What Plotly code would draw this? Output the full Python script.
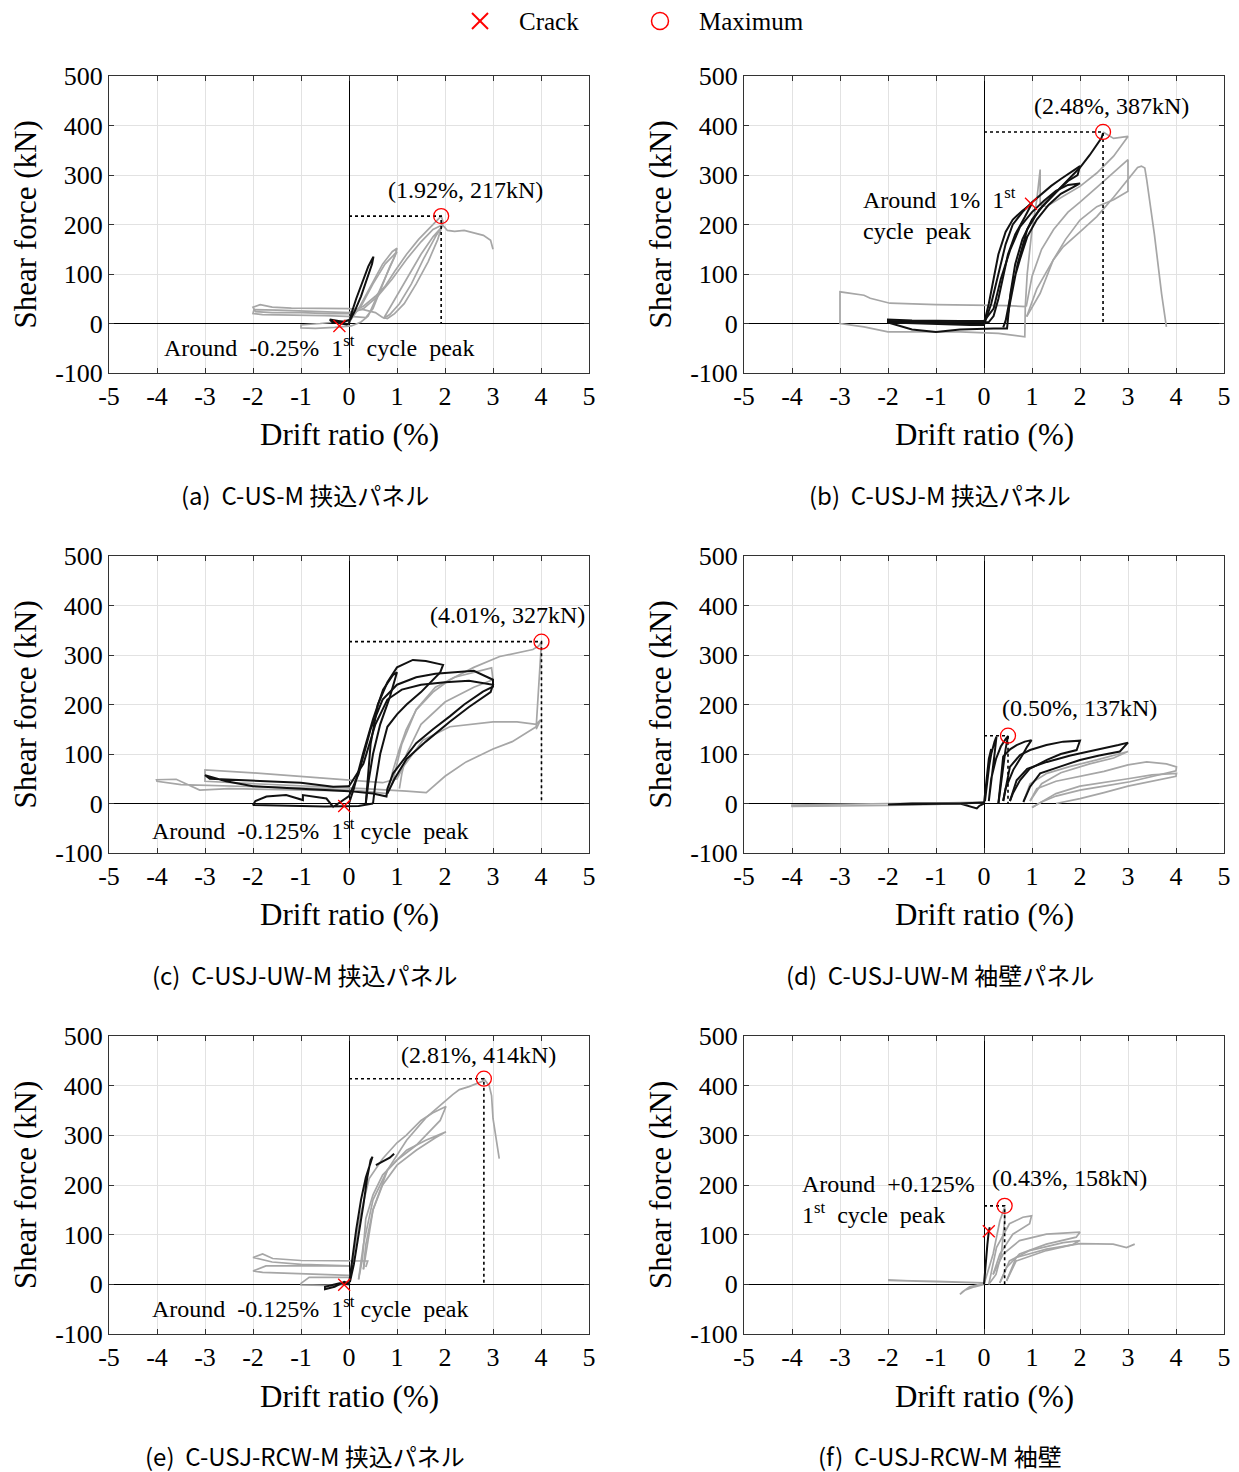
import plotly.graph_objects as go

W, H = 1239, 1472
N = None

# ---------------- DATA ----------------
x_ticks = [-5, -4, -3, -2, -1, 0, 1, 2, 3, 4, 5]
x_ticktext = ["-5", "-4", "-3", "-2", "-1", "0", "1", "2", "3", "4", "5"]
y_ticks = [-100, 0, 100, 200, 300, 400, 500]
y_ticktext = ["-100", "0", "100", "200", "300", "400", "500"]

captions = ["(a)  C-US-M 挟込パネル", "(b)  C-USJ-M 挟込パネル", "(c)  C-USJ-UW-M 挟込パネル",
            "(d)  C-USJ-UW-M 袖壁パネル", "(e)  C-USJ-RCW-M 挟込パネル", "(f)  C-USJ-RCW-M 袖壁"]

# (a) C-US-M
a_gray_x = [0, 0.2, 0.45, 0.7, 0.9, 1.0, 0.95, 0.75, 0.55, 0.4, 0.25, 0.05, -0.3, -0.7, -1.0, -1.0, -0.6, -0.2, 0.0, N,
            0.0, 0.25, 0.5, 0.75, 0.95, 1.0, 0.85, 0.65, 0.5, 0.35, 0.1, -0.5, -1.2, -1.8, -2.0, -1.98, -1.5, -0.8, -0.2, 0.0, N,
            0.0, 0.3, 0.55, 0.75, 0.95, 1.2, 1.45, 1.7, 1.85, 1.92, 1.96, 1.85, 1.65, 1.4, 1.15, 0.95, 0.8, 0.7, 0.55, 0.3, 0.0,
            -0.6, -1.2, -1.6, -1.85, -2.0, -1.95, -1.6, -1.0, -0.4, 0.0, N,
            0.0, 0.3, 0.6, 0.9, 1.2, 1.5, 1.75, 1.96, 1.8, 1.55, 1.3, 1.05, 0.85, 0.72, 0.9, 1.2, 1.5, 1.75, 1.96, 2.05, 2.2,
            2.4, 2.6, 2.8, 2.95, 3.0]
a_gray_y = [2, 30, 75, 120, 145, 152, 135, 90, 45, 15, 3, -5, -8, -10, -9, -3, 0, 4, 8, N,
            8, 35, 80, 120, 140, 145, 115, 65, 30, 12, 14, 16, 17, 18, 20, 28, 27, 25, 22, 22, N,
            22, 35, 55, 75, 105, 140, 170, 195, 208, 217, 205, 170, 125, 80, 40, 20, 10, 12, 22, 28, 30,
            30, 31, 33, 38, 33, 24, 22, 22, 20, 20, N,
            20, 30, 55, 90, 130, 165, 190, 200, 175, 130, 80, 40, 18, 10, 40, 90, 140, 175, 198, 188, 186,
            188, 183, 178, 168, 150]
a_black_x = [0.0, 0.05, 0.15, 0.28, 0.4, 0.48, 0.51, 0.48, 0.38, 0.25, 0.12, 0.03, -0.1, -0.25, -0.4, -0.35, -0.2, -0.05, 0.0]
a_black_y = [0, 20, 50, 85, 115, 130, 135, 120, 90, 55, 25, 8, 3, 5, 8, 3, 0, -2, 0]
a_crack = (-0.2, -5)
a_max = (1.92, 217)

# (b) C-USJ-M
b_gray_x = [2.48, 2.7, 3.0, 2.7, 2.35, 2.0, 1.65, 1.3, 1.17, 1.17, 1.1, 1.0, 0.9, 0.86, 0.85,
            0.3, -0.5, -1.0, -2.0, -2.5, -3.0, -3.0, -2.5, -2.37, -1.96, -1.0, 0.0, 0.5, 0.88, N,
            0.88, 1.0, 1.2, 1.45, 1.75, 2.0, 2.35, 2.7, 3.0, 3.0, 2.7, 2.35, 2.0, 1.7, 1.44, 1.17, 0.89, N,
            0.89, 1.1, 1.44, 1.65, 2.0, 2.35, 2.7, 3.04, 3.2, 3.28, 3.35, 3.39, 3.55, 3.7, 3.8]
b_gray_y = [387, 374, 378, 338, 304, 277, 257, 236, 240, 311, 250, 190, 100, 34, -27,
            -20, -17, -17, -17, -7, 0, 64, 57, 51, 41, 38, 37, 36, 34, N,
            34, 95, 150, 190, 225, 245, 275, 305, 331, 267, 250, 236, 209, 170, 128, 61, 14, N,
            14, 70, 128, 155, 185, 216, 255, 297, 315, 318, 314, 290, 180, 60, -7]
b_black_x = [0.0, 0.1, 0.2, 0.3, 0.45, 0.6, 0.8, 1.0, 0.85, 0.65, 0.5, 0.4, 0.3, 0.2, 0.1, 0.0, -0.5, -1.0, -1.5, -2.0,
             -1.95, -1.4, -0.8, -0.3, 0.0, N,
             0.0, 0.15, 0.3, 0.45, 0.6, 0.8, 1.0, 1.2, 1.4, 1.6, 1.8, 2.0, 1.95, 1.75, 1.5, 1.25, 1.0, 0.8, 0.65, 0.55,
             0.5, 0.48, 0.2, -0.5, -1.0, -1.5, -2.0, -2.0, -1.5, -1.0, -0.5, 0.0, N,
             0.0, 0.2, 0.35, 0.55, 0.75, 1.0, 1.25, 1.5, 1.75, 2.0, 1.85, 1.6, 1.35, 1.1, 0.9, 0.75, 0.6, 0.5, 0.45, 0.4,
             0.5, 0.7, 0.9, 1.15, 1.45, 1.75, 2.0, 2.2, 2.35, 2.45, 2.48]
b_black_y = [0, 40, 90, 140, 185, 210, 228, 243, 215, 180, 140, 95, 50, 15, 3, 2, 2, 3, 4, 5,
             2, 0, -2, -3, -3, N,
             -3, 40, 100, 160, 200, 225, 245, 262, 278, 292, 305, 318, 300, 288, 265, 240, 210, 170, 120, 60,
             10, -10, -10, -12, -17, -12, 2, 8, 6, 5, 5, 5, N,
             5, 30, 90, 150, 195, 225, 248, 268, 280, 283, 275, 262, 240, 210, 175, 130, 80, 30, 5, -8,
             20, 120, 190, 230, 260, 290, 315, 340, 360, 375, 385]
b_crack = (0.98, 242)
b_max = (2.48, 387)

# (c) C-USJ-UW-M infill panel
c_gray_x = [0.8, 0.3, -0.5, -1.5, -2.5, -3.5, -4.0, -4.01, -3.6, -3.11, -2.5, -1.0, 0.0, 0.3, N,
            0.78, 0.92, 1.05, 1.19, 1.4, 1.75, 2.1, 2.6, 3.14, 3.5, 3.83, 3.95, 4.01, N,
            0.9, 1.1, 1.4, 1.8, 2.2, 2.6, 2.97, 3.0, 2.6, 2.0, 1.5, 1.2, 1.1, 1.05, N,
            4.01, 4.0, 3.9, 3.4, 3.0, 2.44, 2.0, 1.61, 1.2, 0.3, -1.0, -2.0, -3.0, -3.0, -2.0, -1.0, 0.0, 0.7, 1.0,
            1.13, 1.54, 2.1, 3.0, 3.5, 3.9, 3.99, 3.9]
c_gray_y = [20, 25, 30, 33, 35, 38, 45, 48, 49, 27, 30, 27, 25, 25, N,
            14, 68, 110, 149, 189, 225, 250, 275, 297, 305, 311, 318, 327, N,
            40, 120, 190, 235, 255, 265, 274, 250, 235, 205, 160, 100, 60, 30, N,
            327, 310, 155, 125, 110, 84, 55, 22, 25, 30, 35, 40, 45, 68, 62, 55, 48, 42, 50,
            74, 128, 155, 165, 165, 160, 169, 150]
c_black_x = [0.0, 0.1, 0.29, 0.5, 0.71, 0.92, 1.0, 0.85, 0.65, 0.5, 0.4, 0.35, N,
             0.35, 0.45, 0.6, 0.8, 1.0, 1.33, 1.6, 1.8, 1.96, 1.9, 1.75, 1.5, 1.2, 1.0, 0.8, 0.65, 0.55, 0.5, N,
             0.5, 0.2, -0.5, -1.0, -1.3, -1.72, -2.0, -1.95, -1.72, -1.31, -0.96, -0.96, -0.47, -0.33, 0.0, N,
             0.0, 0.2, 0.45, 0.7, 1.0, 1.4, 1.8, 2.2, 2.6, 3.0, 3.0, 2.79, 2.4, 2.1, 1.75, 1.4, 1.15, 0.92, 0.8, 0.78,
             0.5, 0.0, -1.0, -2.0, -2.56, -3.0, -2.9, -2.14, -1.0, -0.33, 0.0, N,
             0.0, 0.3, 0.55, 0.8, 1.1, 1.5, 2.0, 2.5, 3.0, 2.95, 2.5, 2.1, 1.6, 1.2, 0.95, 0.8]
c_black_y = [0, 30, 100, 170, 230, 260, 265, 215, 160, 100, 40, 0, N,
             0, 120, 200, 245, 275, 290, 288, 283, 280, 265, 250, 225, 200, 180, 155, 100, 40, 0, N,
             0, -5, -6, -5, -4, -3, -3, 5, 14, 17, 7, 17, 10, -7, 15, N,
             15, 60, 150, 210, 240, 255, 262, 265, 268, 250, 236, 226, 200, 176, 150, 122, 90, 61, 30, 14,
             20, 25, 30, 35, 45, 57, 50, 47, 42, 34, 35, N,
             35, 80, 160, 210, 230, 240, 245, 248, 240, 225, 195, 165, 125, 90, 50, 20]
c_crack = (-0.1, -5)
c_max = (4.01, 327)

# (d) C-USJ-UW-M wing wall
d_gray_x = [0.0, -1.0, -2.0, -3.0, -4.0, -4.0, -3.0, -2.0, -1.0, 0.0, N,
            0.82, 0.96, 1.31, 1.8, 2.35, 3.0, 2.7, 2.2, 1.6, 1.2, 0.96, N,
            0.96, 1.1, 1.5, 2.0, 2.5, 3.0, 3.39, 3.8, 4.01, 4.0, 3.5, 3.04, 2.5, 2.0, 1.5, 1.2, 1.0, N,
            1.0, 1.5, 2.0, 2.5, 3.0, 3.5, 4.01, 4.0, 3.5, 3.0, 2.5, 2.0, 1.5]
d_gray_y = [2, -2, -4, -5, -6, -3, -1, 0, 1, 3, N,
            3, 40, 61, 75, 88, 105, 92, 80, 62, 40, 5, N,
            5, 30, 45, 55, 65, 78, 84, 80, 74, 66, 55, 44, 35, 27, 15, 3, -8, N,
            -8, 20, 35, 42, 50, 58, 61, 55, 45, 35, 22, 10, 0]
d_black_x = [0.0, 0.05, 0.1, 0.15, 0.1, 0.05, 0.02, 0.08, 0.15, 0.22, 0.26, 0.22, 0.15, 0.1, 0.15, 0.25, 0.35, 0.45,
             0.5, 0.45, 0.4, 0.35, 0.3, N,
             0.3, 0.4, 0.55, 0.68, 0.85, 0.99, 0.9, 0.82, 0.61, 0.45, 0.4, N,
             0.4, 0.54, 0.75, 0.96, 1.3, 1.65, 2.0, 1.93, 1.6, 1.31, 0.95, 0.75, 0.6, 0.54, N,
             0.54, 0.68, 0.9, 1.31, 1.8, 2.35, 2.8, 3.0, 2.83, 2.4, 2.0, 1.6, 1.17, 0.96, 0.82, N,
             0.0, -0.5, -1.0, -1.5, -2.0, -1.5, -0.5, -0.15, -0.1, 0.0]
d_black_y = [0, 50, 90, 110, 70, 20, 5, 60, 100, 125, 135, 100, 50, 5, 50, 90, 115, 130,
             136, 110, 70, 30, 0, N,
             0, 95, 110, 118, 125, 128, 115, 101, 68, 30, 5, N,
             5, 74, 98, 108, 118, 125, 127, 108, 100, 88, 70, 47, 20, 5, N,
             5, 47, 70, 84, 97, 108, 118, 123, 105, 97, 88, 75, 61, 34, 3, N,
             2, 0, 0, 0, -2, -1, 0, -10, -5, 0]
d_crack = None
d_max = (0.50, 137)

# (e) C-USJ-RCW-M infill panel
e_gray_x = [0.0, -0.5, -1.0, -1.0, -0.83, -0.5, 0.0, N,
            0.0, -1.0, -1.8, -2.0, -1.73, -1.0, 0.0, N,
            0.0, -1.0, -1.6, -2.0, -1.8, -1.59, -1.0, 0.0, 0.39, 0.35, N,
            0.0, 0.1, 0.22, 0.42, 0.7, 1.0, 1.19, 1.5, 1.74, 2.02, 1.9, 1.6, 1.4, 1.0, 0.7, 0.5, 0.35, 0.28, 0.2, N,
            0.2, 0.3, 0.5, 0.8, 1.2, 1.6, 2.02, 1.8, 1.4, 1.0, 0.7, 0.5, 0.35, 0.3, N,
            0.3, 0.5, 0.8, 1.2, 1.6, 2.0, 2.16, 2.3, 2.5, 2.78, 2.81, 2.92, 2.97, 3.0, 3.13]
e_gray_y = [0, -2, -1, 2, 14, 14, 14, N,
            18, 22, 24, 27, 37, 37, 37, N,
            37, 40, 45, 54, 61, 52, 48, 47, 47, 35, N,
            5, 60, 132, 213, 253, 285, 300, 330, 345, 358, 330, 300, 280, 250, 220, 180, 132, 51, 10, N,
            10, 80, 170, 230, 270, 290, 307, 295, 270, 240, 200, 150, 80, 30, N,
            30, 150, 230, 290, 335, 370, 382, 392, 398, 409, 414, 400, 380, 334, 253]
e_black_x = [0.0, 0.05, 0.15, 0.25, 0.35, 0.45, 0.49, 0.45, 0.38, 0.3, 0.2, 0.1, 0.02, N,
             0.56, 0.7, 0.85, 0.94, N,
             0.0, -0.2, -0.5, -0.5, -0.3, -0.1, 0.0]
e_black_y = [0, 40, 110, 170, 215, 245, 257, 250, 215, 160, 100, 40, 5, N,
             240, 248, 255, 263, N,
             0, 2, -5, -10, -5, 5, 2]
e_crack = (-0.1, -1)
e_max = (2.81, 414)

# (f) C-USJ-RCW-M wing wall
f_gray_x = [0.0, -0.5, -1.0, -1.5, -2.0, -2.0, -1.5, -1.0, -0.5, 0.0, N,
            0.0, -0.2, -0.4, -0.5, -0.45, -0.3, -0.1, 0.0, N,
            0.0, 0.1, 0.19, 0.33, 0.43, 0.43, 0.36, 0.25, 0.1, N,
            0.1, 0.26, 0.53, 0.81, 0.99, 0.95, 0.6, 0.33, 0.19, N,
            0.19, 0.4, 0.74, 1.3, 2.0, 1.92, 1.3, 0.74, 0.47, 0.33, N,
            0.33, 0.53, 0.95, 1.65, 2.0, 1.85, 1.3, 0.67, 0.47, N,
            0.47, 0.67, 1.3, 2.0, 2.69, 2.97, 3.14]
f_gray_y = [3, 5, 6, 7, 8, 7, 6, 6, 5, 3, N,
            0, -5, -12, -20, -15, -5, 0, 2, N,
            0, 30, 61, 128, 155, 128, 61, 20, 0, N,
            0, 74, 122, 135, 138, 122, 101, 61, 20, N,
            20, 61, 88, 101, 105, 95, 81, 61, 34, 3, N,
            3, 47, 68, 84, 88, 80, 68, 47, 7, N,
            7, 54, 71, 82, 81, 74, 81]
f_black_x = [0.0, 0.03, 0.07, 0.1, 0.12]
f_black_y = [0, 40, 80, 107, 115]
f_crack = (0.1, 107)
f_max = (0.43, 158)

# ---------------- LAYOUT GEOMETRY (screen pixels of the target) ----------------
col_px = [(109, 589), (744, 1224)]
row_px = [(76, 373), (556, 853), (1036, 1334)]
OFF = 8  # page body margin: the figure is drawn 8 px right/down of the window origin


def px(xp):
    return (xp - OFF) / W


def py(yp):
    return 1 - (yp - OFF) / H


panels = [
    (a_gray_x, a_gray_y, a_black_x, a_black_y, a_crack, a_max),
    (b_gray_x, b_gray_y, b_black_x, b_black_y, b_crack, b_max),
    (c_gray_x, c_gray_y, c_black_x, c_black_y, c_crack, c_max),
    (d_gray_x, d_gray_y, d_black_x, d_black_y, d_crack, d_max),
    (e_gray_x, e_gray_y, e_black_x, e_black_y, e_crack, e_max),
    (f_gray_x, f_gray_y, f_black_x, f_black_y, f_crack, f_max),
]

max_labels = ["(1.92%, 217kN)", "(2.48%, 387kN)", "(4.01%, 327kN)",
              "(0.50%, 137kN)", "(2.81%, 414kN)", "(0.43%, 158kN)"]
max_label_pos = [(2.42, 270), (2.65, 440), (3.31, 380), (1.98, 193), (2.69, 462), (1.79, 215)]
notes = ["Around  -0.25%  1<sup>st</sup>  cycle  peak",
         "Around  1%  1<sup>st</sup><br>cycle  peak",
         "Around  -0.125%  1<sup>st</sup> cycle  peak",
         None,
         "Around  -0.125%  1<sup>st</sup> cycle  peak",
         "Around  +0.125%<br>1<sup>st</sup>  cycle  peak"]
note_pos = [(-3.9, -45), (-2.56, 222), (-4.15, -52), None, (-4.15, -45), (-3.83, 171)]

SERIF = "Liberation Serif"
GRAY = "#a6a6a6"
fig = go.Figure()
annotations = []
shapes = []
layout_axes = {}


def ann(**kw):
    d = dict(showarrow=False, xanchor="center", yanchor="middle")
    d.update(kw)
    annotations.append(d)


for i, (gx, gy, bx, by, crack, mx) in enumerate(panels):
    r, c = divmod(i, 2)
    sfx = "" if i == 0 else str(i + 1)
    xa, ya = "x" + sfx, "y" + sfx
    x0p, x1p = col_px[c]
    t, b = row_px[r]
    common = dict(showgrid=True, gridcolor="#e2e2e2", gridwidth=1, zeroline=True, zerolinecolor="black",
                  zerolinewidth=1, showline=True, linecolor="#333", linewidth=1, mirror="ticks",
                  ticks="inside", ticklen=5, tickcolor="#333", automargin=False,
                  tickfont=dict(family=SERIF, size=26, color="black"))
    layout_axes["xaxis" + sfx] = dict(common, domain=[px(x0p), px(x1p)], range=[-5, 5], anchor=ya,
                                      tickmode="array", tickvals=x_ticks, ticktext=x_ticktext)
    layout_axes["yaxis" + sfx] = dict(common, domain=[py(b), py(t)], range=[-100, 500], anchor=xa,
                                      tickmode="array", tickvals=y_ticks, ticktext=y_ticktext)

    fig.add_trace(go.Scatter(x=gx, y=gy, mode="lines", line=dict(color=GRAY, width=1.7),
                             xaxis=xa, yaxis=ya, showlegend=False, connectgaps=False))
    fig.add_trace(go.Scatter(x=bx, y=by, mode="lines", line=dict(color="#111111", width=2),
                             xaxis=xa, yaxis=ya, showlegend=False, connectgaps=False))
    fig.add_trace(go.Scatter(x=[0, mx[0], mx[0]], y=[mx[1], mx[1], 0], mode="lines",
                             line=dict(color="black", width=1.6, dash="dot"),
                             xaxis=xa, yaxis=ya, showlegend=False))
    if crack is not None:
        fig.add_trace(go.Scatter(x=[crack[0]], y=[crack[1]], mode="markers",
                                 marker=dict(symbol="x-thin-open", size=12, color="red",
                                             line=dict(color="red", width=1.3)),
                                 xaxis=xa, yaxis=ya, showlegend=False))
    fig.add_trace(go.Scatter(x=[mx[0]], y=[mx[1]], mode="markers",
                             marker=dict(symbol="circle-open", size=15, color="red",
                                         line=dict(color="red", width=1.3)),
                             xaxis=xa, yaxis=ya, showlegend=False))

    ann(x=max_label_pos[i][0], y=max_label_pos[i][1], xref=xa, yref=ya, text=max_labels[i],
        font=dict(family=SERIF, size=24, color="black"))
    if notes[i] is not None:
        ann(x=note_pos[i][0], y=note_pos[i][1], xref=xa, yref=ya, xanchor="left", align="left",
            text=notes[i], font=dict(family=SERIF, size=24, color="black"))

    cx = (x0p + x1p) / 2
    cy = (t + b) / 2
    ann(x=px(x0p - 84), y=py(cy), xref="paper", yref="paper", text="Shear force (kN)",
        textangle=-90, font=dict(family=SERIF, size=31, color="black"))
    ann(x=px(cx), y=py(b + 62), xref="paper", yref="paper", text="Drift ratio (%)",
        font=dict(family=SERIF, size=31, color="black"))
    ann(x=px(cx - 44), y=py(b + 121), xref="paper", yref="paper", text=captions[i],
        font=dict(family="Noto Sans CJK JP", size=24, color="black"))

# ---------------- LEGEND (drawn with shapes + text) ----------------
lx, ly, hs = 480, 21, 8
shapes.append(dict(type="line", xref="paper", yref="paper", x0=px(lx - hs), y0=py(ly - hs), x1=px(lx + hs),
                   y1=py(ly + hs), line=dict(color="red", width=2)))
shapes.append(dict(type="line", xref="paper", yref="paper", x0=px(lx - hs), y0=py(ly + hs), x1=px(lx + hs),
                   y1=py(ly - hs), line=dict(color="red", width=2)))
cx0, cr = 660, 8.5
shapes.append(dict(type="circle", xref="paper", yref="paper", x0=px(cx0 - cr), x1=px(cx0 + cr),
                   y0=py(ly + cr), y1=py(ly - cr), line=dict(color="red", width=1.5)))
ann(x=px(517), y=py(ly), xref="paper", yref="paper", xanchor="left", text="Crack",
    font=dict(family=SERIF, size=25, color="black"))
ann(x=px(697), y=py(ly), xref="paper", yref="paper", xanchor="left", text="Maximum",
    font=dict(family=SERIF, size=25, color="black"))

fig.update_layout(template="none", width=W, height=H, autosize=False,
                  margin=dict(l=0, r=0, t=0, b=0, pad=0, autoexpand=False),
                  plot_bgcolor="white", paper_bgcolor="white", annotations=annotations, shapes=shapes,
                  showlegend=False, **layout_axes)

fig.write_html("out.html")
